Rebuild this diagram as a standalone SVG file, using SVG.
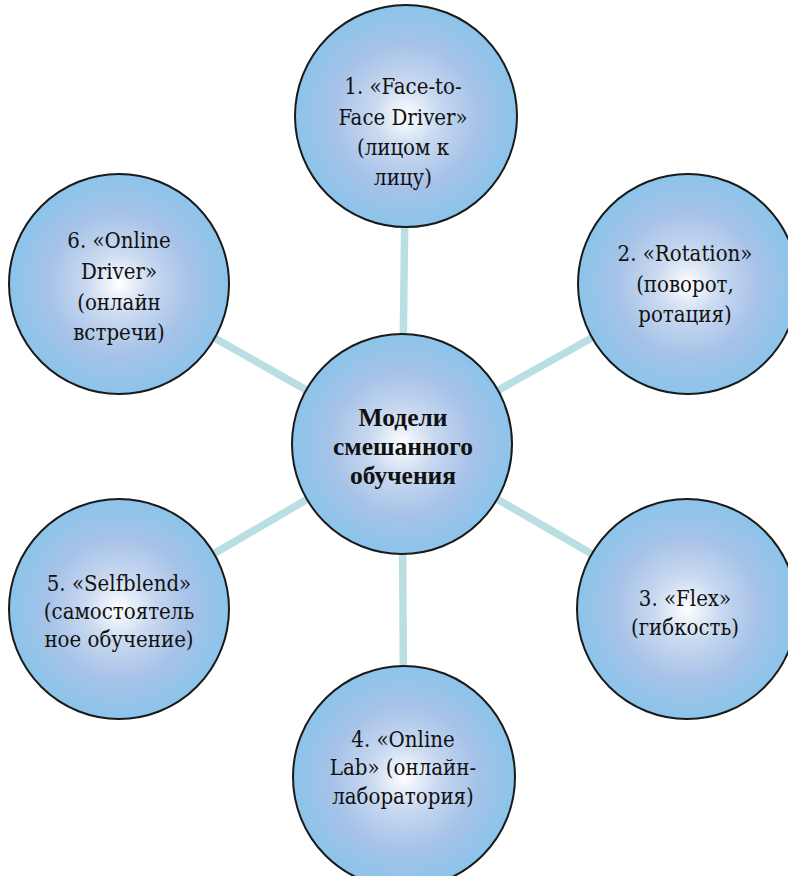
<svg xmlns="http://www.w3.org/2000/svg" width="788" height="876" viewBox="0 0 788 876">
<defs>
<radialGradient id="g" cx="50%" cy="50%" r="50%">
<stop offset="0" stop-color="#FFFFFF"/>
<stop offset="0.3" stop-color="#C9D9F0"/>
<stop offset="0.65" stop-color="#A6C2E8"/>
<stop offset="1" stop-color="#8CC4EA"/>
</radialGradient>
<style>
.n{fill:url(#g);stroke:#1a1a1a;stroke-width:2}
text{font-family:'DejaVu Serif Condensed','DejaVu Serif',serif;font-size:22px;fill:#111;text-anchor:middle}
.b{font-weight:bold;font-family:'Liberation Serif','DejaVu Serif Condensed',serif;font-size:25.5px}
.c{stroke:#B9DFE2;stroke-width:7.5;fill:none}
</style>
</defs>
<rect width="788" height="876" fill="#FFFFFF"/>
<g id="connectors">
<line class="c" x1="402" y1="444" x2="406" y2="116"/>
<line class="c" x1="402" y1="444" x2="688" y2="284"/>
<line class="c" x1="402" y1="444" x2="687" y2="609"/>
<line class="c" x1="402" y1="444" x2="404" y2="777"/>
<line class="c" x1="402" y1="444" x2="119" y2="609"/>
<line class="c" x1="402" y1="444" x2="119" y2="284"/>
</g>
<g id="center">
<circle class="n" cx="402" cy="444" r="110"/>
<text class="b" x="403" y="426">Модели</text>
<text class="b" x="403" y="455">смешанного</text>
<text class="b" x="403" y="484">обучения</text>
</g>
<g id="node1">
<circle class="n" cx="406" cy="116" r="111"/>
<text x="403" y="94">1. «Face-to-</text>
<text x="403" y="125">Face Driver»</text>
<text x="403" y="155">(лицом к</text>
<text x="403" y="185">лицу)</text>
</g>
<g id="node2">
<circle class="n" cx="688" cy="284" r="110"/>
<text x="685" y="261">2. «Rotation»</text>
<text x="685" y="292">(поворот,</text>
<text x="685" y="322">ротация)</text>
</g>
<g id="node3">
<circle class="n" cx="687" cy="609" r="110"/>
<text x="685" y="606">3. «Flex»</text>
<text x="685" y="635">(гибкость)</text>
</g>
<g id="node4">
<circle class="n" cx="404" cy="777" r="111"/>
<text x="403" y="747">4. «Online</text>
<text x="403" y="775">Lab» (онлайн-</text>
<text x="403" y="804">лаборатория)</text>
</g>
<g id="node5">
<circle class="n" cx="119" cy="609" r="110"/>
<text x="119" y="591">5. «Selfblend»</text>
<text x="119" y="619">(самостоятель</text>
<text x="119" y="647">ное обучение)</text>
</g>
<g id="node6">
<circle class="n" cx="119" cy="284" r="110"/>
<text x="119" y="248">6. «Online</text>
<text x="119" y="279">Driver»</text>
<text x="119" y="310">(онлайн</text>
<text x="119" y="340">встречи)</text>
</g>
</svg>
